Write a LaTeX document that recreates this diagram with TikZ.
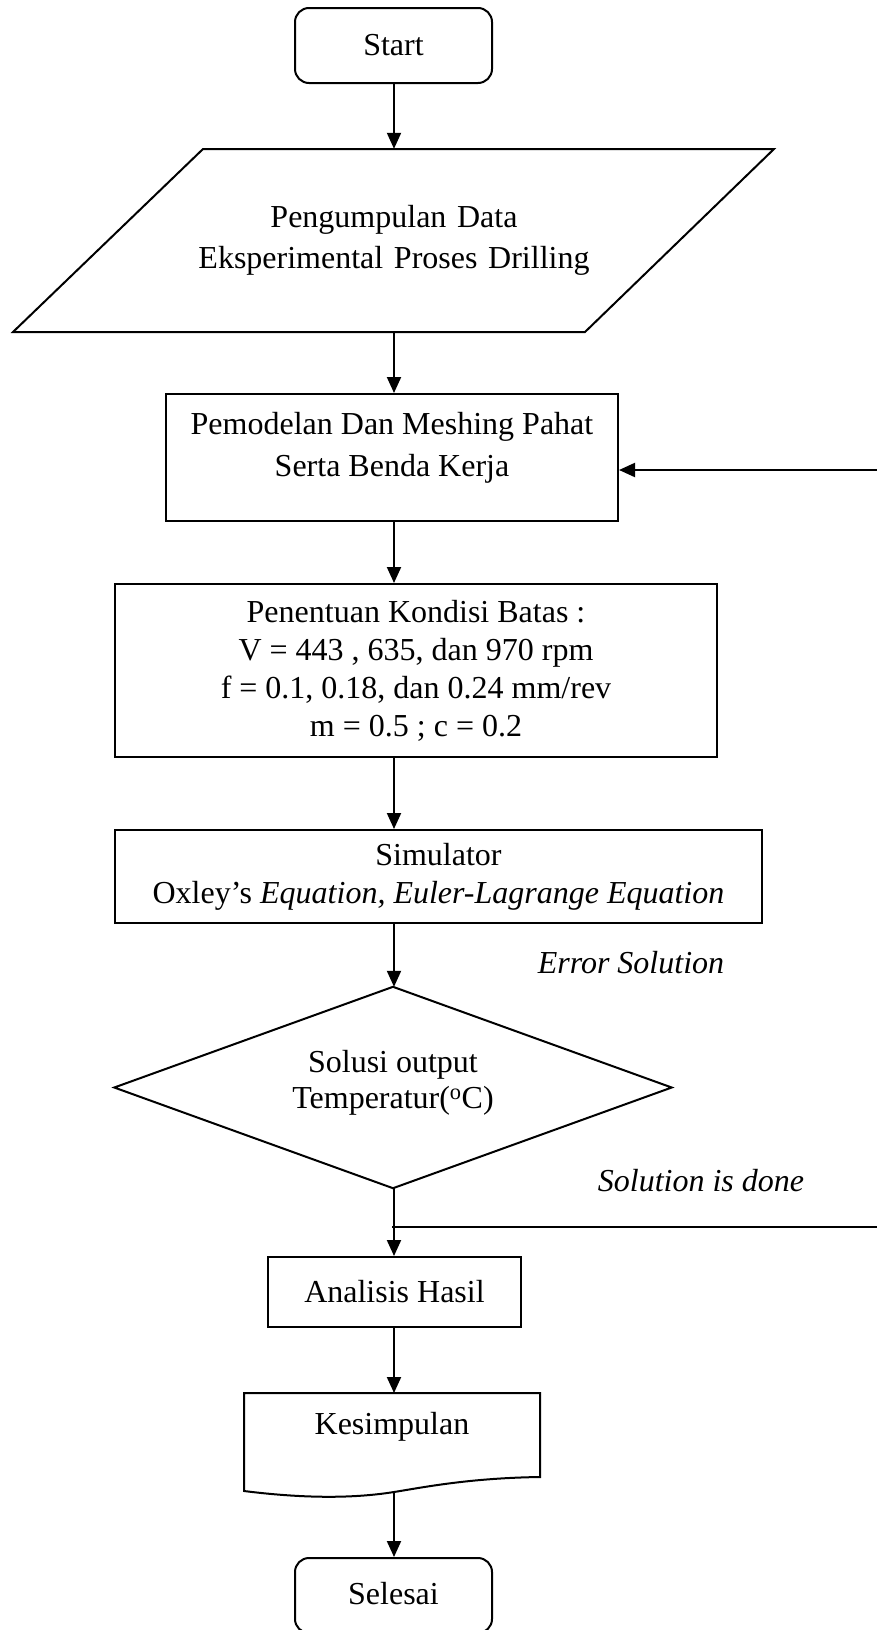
\documentclass[tikz,border=0pt]{standalone}
\usepackage{fontspec}
\setmainfont{Liberation Serif}
\usetikzlibrary{shapes.geometric,arrows.meta}
\begin{document}
\begin{tikzpicture}[x=1pt,y=-1pt,
  base/.style={draw=black,line width=2pt,inner sep=0pt,font=\fontsize{32}{38}\selectfont,align=center},
  txt/.style={inner sep=0pt,font=\fontsize{32}{38}\selectfont,align=center},
  lbl/.style={inner sep=0pt,font=\fontsize{32}{38}\selectfont\itshape},
  arr/.style={line width=2pt,-{Triangle[length=16pt,width=14pt]}},
  ln/.style={line width=2pt}]
\clip (0,0) rectangle (877,1630);
\fill[white] (0,0) rectangle (877,1630);

% Start
\node[base,rounded corners=14pt,minimum width=197pt,minimum height=75pt] (start) at (393.5,45.5) {Start};

% Parallelogram
\node[txt,minimum width=380pt,minimum height=183pt,text width=560pt,font=\fontsize{32}{41}\selectfont] (para) at (394,240.5) {Pengumpulan Data\\Eksperimental Proses Drilling};
\draw[ln] (203,149) -- (774,149) -- (585,332) -- (13,332) -- cycle;

% Pemodelan
\node[base,minimum width=452pt,minimum height=127pt] (pem) at (392,457.5) {};
\node[txt,font=\fontsize{32}{42}\selectfont] (pemtext) at (392,448) {Pemodelan Dan Meshing Pahat\\Serta Benda Kerja};
\coordinate (axis) at (394,0);

% Penentuan
\node[base,minimum width=602pt,minimum height=173pt] (pen) at (416,670.5) {Penentuan Kondisi Batas :\\V = 443 , 635, dan 970 rpm\\f = 0.1, 0.18, dan 0.24 mm/rev\\m = 0.5 ; c = 0.2};

% Simulator
\node[base,minimum width=647pt,minimum height=93pt] (sim) at (438.5,876.5) {Simulator\\Oxley's \textit{Equation, Euler-Lagrange Equation}};

\node[lbl] (err) at (631,963) {Error Solution};

% Diamond
\node[minimum width=557pt,minimum height=201pt,inner sep=0pt] (dia) at (393,1087.5) {};
\draw[ln] (dia.north) -- (dia.east) -- (dia.south) -- (dia.west) -- cycle;
\node[txt,font=\fontsize{32}{36}\selectfont] (diatext) at (393,1083) {Solusi output\\Temperatur(\textsuperscript{o}C)};

\node[lbl] (done) at (701,1181) {Solution is done};

% Analisis
\node[base,minimum width=253pt,minimum height=70pt] (ana) at (394.5,1292) {Analisis Hasil};

% Kesimpulan (document shape)
\coordinate (kest) at (394,1393);
\coordinate (kesb) at (394,1492);
\draw[ln] (244,1393) -- (540,1393) -- (540,1477) .. controls (470,1478) and (425,1487) .. (kesb) .. controls (350,1499) and (300,1498) .. (244,1491) -- cycle;
\node[txt] (kestext) at (392,1427) {Kesimpulan};

% Selesai
\node[base,rounded corners=14pt,minimum width=197pt,minimum height=75pt] (sel) at (393.5,1595.5) {\raisebox{4pt}{Selesai}};

% connectors
\draw[arr] (start.south -| axis) -- (para.north -| axis);
\draw[arr] (para.south -| axis) -- (pem.north -| axis);
\draw[arr] (pem.south -| axis) -- (pen.north -| axis);
\draw[arr] (pen.south -| axis) -- (sim.north -| axis);
\draw[arr] (sim.south -| axis) -- (dia.north -| axis);
\draw[arr] (dia.south -| axis) -- (ana.north -| axis);
\draw[arr] (ana.south -| axis) -- (kest);
\draw[arr] (kesb) -- (sel.north -| axis);

% feedback lines
\coordinate (fbin) at (877,470);
\draw[arr] (fbin) -- (pem.east |- fbin);
\coordinate (fbout) at (877,1227);
\coordinate (fbstart) at (392,1227);
\draw[ln] (fbstart) -- (fbout);
\end{tikzpicture}
\end{document}
